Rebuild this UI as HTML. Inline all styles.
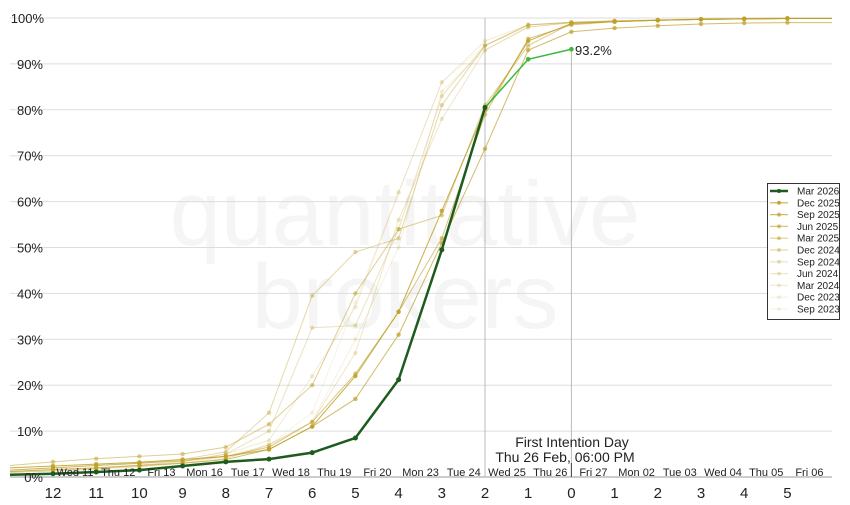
<!DOCTYPE html>
<html><head><meta charset="utf-8"><style>
body{margin:0;background:#fff;width:850px;height:500px;overflow:hidden;font-family:"Liberation Sans",sans-serif}
</style></head><body>
<svg id="s" width="850" height="500" xmlns="http://www.w3.org/2000/svg" font-family="Liberation Sans, sans-serif">
<text x="405" y="245" font-size="92" fill="#f5f5f5" text-anchor="middle">quantitative</text>
<text x="405" y="328" font-size="92" fill="#f5f5f5" text-anchor="middle">brokers</text>
<g id="grid"></g>
<line x1="485" y1="18" x2="485" y2="477" stroke="#bbb" stroke-width="1"/>
<line x1="571.4" y1="50" x2="571.4" y2="477" stroke="#bbb" stroke-width="1"/>
<line x1="571.4" y1="463" x2="571.4" y2="477" stroke="#444" stroke-width="1"/>
<g id="series"></g>
<text x="575" y="55" font-size="13" fill="#222">93.2%</text>
<text x="572" y="447" font-size="14" fill="#222" text-anchor="middle">First Intention Day</text>
<text x="565" y="462" font-size="14" fill="#222" text-anchor="middle">Thu 26 Feb, 06:00 PM</text>
<g id="labels"></g>
<rect x="767.5" y="183.5" width="72" height="136" fill="#fff" stroke="#333"/>
<g id="legend"></g>
</svg>
<script>
const X=[];for(let i=0;i<18;i++)X.push(53+43.2*i);
const Y=v=>477-4.59*v;
let g='';
for(let v=0;v<=100;v+=10){g+=`<line x1="10" x2="832" y1="${Y(v)}" y2="${Y(v)}" stroke="${v==0?'#999':'#ddd'}" stroke-width="1"/>`;}
document.getElementById('grid').innerHTML=g;
let L='';
for(let v=0;v<=100;v+=10)L+=`<text x="${v==100?44:43}" y="${Y(v)+5}" font-size="13" fill="#222" text-anchor="end">${v}%</text>`;
const nums=[12,11,10,9,8,7,6,5,4,3,2,1,0,1,2,3,4,5];
nums.forEach((n,i)=>L+=`<text x="${X[i]}" y="498" font-size="15" fill="#222" text-anchor="middle">${n}</text>`);
const days=['Wed 11','Thu 12','Fri 13','Mon 16','Tue 17','Wed 18','Thu 19','Fri 20','Mon 23','Tue 24','Wed 25','Thu 26','Fri 27','Mon 02','Tue 03','Wed 04','Thu 05','Fri 06'];
days.forEach((d,i)=>L+=`<text x="${X[i]+22}" y="476" font-size="11" fill="#222" text-anchor="middle">${d}</text>`);
document.getElementById('labels').innerHTML=L;
const S=[
['Sep 2023',0.12,[0.5,0.8,1.2,1.8,2.5,4,7,14,38,62,86,94,98,99,99.3,99.5,99.7,99.8,99.9]],
['Dec 2023',0.15,[1,1.3,1.7,2.2,3,4.5,7,12,30,50,84,93,98,99,99.3,99.5,99.7,99.8,99.9]],
['Mar 2024',0.2,[1,1.4,1.9,2.5,3.2,5,8,22,37,62,86,95,98.5,99,99.3,99.5,99.7,99.8,99.9]],
['Jun 2024',0.25,[1,1.3,1.8,2.3,3,4,7,12,27,56,78,93,98,99,99.3,99.5,99.7,99.8,99.9]],
['Sep 2024',0.3,[1.2,1.6,2,2.6,3.4,5,10,32.5,33,54,83,94,98.5,99,99.3,99.5,99.7,99.8,99.9]],
['Dec 2024',0.4,[1.5,2,2.5,3,3.8,5.5,14,39.5,49,52,81,94,98.5,99.1,99.4,99.6,99.8,99.9,100]],
['Mar 2025',0.5,[2.5,3.3,4,4.5,5,6.5,11.5,20,40,54,57,81,94,98.8,99.2,99.5,99.7,99.8,99.9]],
['Jun 2025',0.6,[1.5,2,2.5,3,3.5,4.5,6.5,12,22.5,36,52,79,95.5,98.5,99.2,99.5,99.7,99.8,99.9]],
['Sep 2025',0.7,[1.2,1.6,2,2.5,3,3.8,6,11,17,31,51,71.5,93,97,97.8,98.3,98.7,98.9,99]],
['Dec 2025',0.85,[2,2.4,2.8,3.2,3.8,4.5,6,11,22,36,58,80,95,98.8,99.2,99.5,99.7,99.8,99.9]]
];
let out='';
S.forEach(([n,o,d])=>{
 const xs=[10,...X];
 let pts=d.map((v,i)=>`${xs[i]},${Y(v)}`).join(' ')+` 832,${Y(d[d.length-1])}`;
 out+=`<polyline points="${pts}" fill="none" stroke="rgba(190,160,40,${o})" stroke-width="1"/>`;
 d.forEach((v,i)=>{if(i>0)out+=`<circle cx="${xs[i]}" cy="${Y(v)}" r="2.2" fill="rgba(190,160,40,${o})"/>`});
});
const G=[0.7,1.1,1.5,2.4,3.3,3.9,5.3,8.5,21.2,49.5,80.5];
out+=`<polyline points="${X[10]},${Y(80.5)} ${X[11]},${Y(91)} ${X[12]},${Y(93.2)}" fill="none" stroke="#3cb83c" stroke-width="1.5"/>`;
out+=`<circle cx="${X[11]}" cy="${Y(91)}" r="2.3" fill="#3cb83c"/><circle cx="${X[12]}" cy="${Y(93.2)}" r="2.3" fill="#3cb83c"/>`;
let gp=[`10,${Y(0.5)}`];G.forEach((v,i)=>gp.push(`${X[i]},${Y(v)}`));
out+=`<polyline points="${gp.join(' ')}" fill="none" stroke="#1e5c1e" stroke-width="2.5"/>`;
G.forEach((v,i)=>out+=`<circle cx="${X[i]}" cy="${Y(v)}" r="2.5" fill="#1e5c1e"/>`);
document.getElementById('series').innerHTML=out;
let lg='';
const names=['Mar 2026','Dec 2025','Sep 2025','Jun 2025','Mar 2025','Dec 2024','Sep 2024','Jun 2024','Mar 2024','Dec 2023','Sep 2023'];
names.forEach((n,i)=>{const y=191+11.8*i;
 const c=i==0?'#1e5c1e':`rgba(190,160,40,${S[10-i][1]})`;
 lg+=`<line x1="770" x2="788" y1="${y}" y2="${y}" stroke="${c}" stroke-width="${i==0?2.5:1.2}"/><circle cx="779" cy="${y}" r="2" fill="${c}"/><text x="797" y="${y+3.5}" font-size="10" fill="#222">${n}</text>`;});
document.getElementById('legend').innerHTML=lg;
</script>
</body></html>
